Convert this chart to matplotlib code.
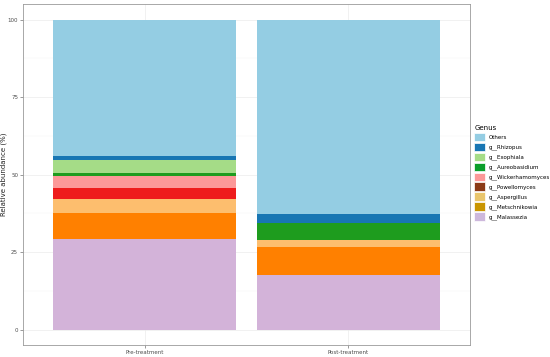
import numpy as np
import matplotlib
matplotlib.use("Agg")
import matplotlib.pyplot as plt
from matplotlib.patches import Patch

samples = ["Pre-treatment", "Post-treatment"]
# stacked bottom to top
genera = ["g__Malassezia", "g__Metschnikowia", "g__Aspergillus", "g__Powellomyces",
          "g__Wickerhamomyces", "g__Aureobasidium", "g__Exophiala", "g__Rhizopus", "Others"]
pre_vals = [29.3, 8.3, 4.5, 3.4, 4.0, 1.0, 4.3, 1.2, 44.0]
post_vals = [17.5, 9.2, 2.3, 0.0, 0.0, 5.2, 0.0, 3.1, 62.7]
bar_colors = ["#D3B3D9", "#FF8000", "#FDBE6E", "#EE1C1C",
              "#FC9898", "#1E9C1E", "#A5DC87", "#1876B3", "#94CDE3"]
legend_colors = ["#CDB8DC", "#C99500", "#E9C56C", "#8B3A16",
                 "#FC9898", "#0A9E2A", "#A5DC87", "#1876B3", "#94CDE3"]

fig = plt.figure(figsize=(5.5, 3.57), dpi=100)
ax = fig.add_axes([23 / 550, 1 - 345 / 357, 447 / 550, 341 / 357])

x = np.arange(1, len(samples) + 1)
vals = np.array([pre_vals, post_vals])
bottom = np.zeros(len(samples))
for i, g in enumerate(genera):
    ax.bar(x, vals[:, i], 0.9, bottom=bottom, color=bar_colors[i], linewidth=0, zorder=2)
    bottom += vals[:, i]

ax.set_xlim(0.4, 2.6)
ax.set_ylim(-5, 105)
ax.set_yticks([0, 25, 50, 75, 100])
ax.set_yticks([12.5, 37.5, 62.5, 87.5], minor=True)
ax.set_xticks(x)
ax.set_xticklabels(samples)
ax.grid(True, which="major", color="#EBEBEB", linewidth=0.5, zorder=0)
ax.grid(True, which="minor", axis="y", color="#F4F4F4", linewidth=0.3, zorder=0)
for s in ax.spines.values():
    s.set_color("#9A9A9A")
    s.set_linewidth(0.6)
ax.tick_params(which="major", labelsize=4, colors="#4D4D4D", length=2, width=0.4, pad=1.5)
ax.tick_params(which="minor", length=0)
ax.set_ylabel("Relative abundance (%)", fontsize=5, color="#222222")
ax.yaxis.set_label_coords(-0.036, 0.5)

handles = [Patch(facecolor=legend_colors[i], edgecolor="white", linewidth=0.5)
           for i in range(len(genera))][::-1]
leg = fig.legend(handles, genera[::-1], title="Genus", loc="upper left",
                 bbox_to_anchor=(472 / 550, 1 - 123 / 357), frameon=False,
                 fontsize=4, title_fontsize=5, handlelength=2.0, handleheight=2.0,
                 labelspacing=0.25, handletextpad=0.6, borderaxespad=0)
leg._legend_box.align = "left"

fig.savefig("out.png", dpi=100)
